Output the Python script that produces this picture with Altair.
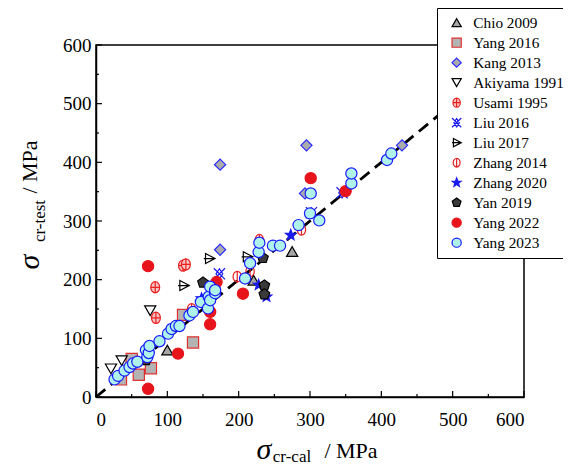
import math
import altair as alt
import pandas as pd

series_names = ["Chio 2009", "Yang 2016", "Kang 2013", "Akiyama 1991", "Usami 1995",
                "Liu 2016", "Liu 2017", "Zhang 2014", "Zhang 2020", "Yan 2019",
                "Yang 2022", "Yang 2023"]

chio_x = [100, 221, 275]
chio_y = [80, 199, 248]
yang16_x = [35, 50, 60, 77, 122, 136]
yang16_y = [30, 65, 38, 49, 140, 93]
kang_x = [174, 174, 295, 293, 429]
kang_y = [396, 251, 429, 347, 429]
akiyama_x = [21, 36, 76]
akiyama_y = [48, 62, 147]
usami_x = [83, 84, 122, 126]
usami_y = [187, 135, 224, 226]
liu16_x = [173, 302, 345]
liu16_y = [210, 314, 348]
liu17_x = [123, 159, 212]
liu17_y = [190, 236, 239]
zhang14_x = [134, 198, 216, 229, 288]
zhang14_y = [150, 205, 214, 268, 285]
zhang20_x = [148, 228, 239, 273]
zhang20_y = [168, 191, 171, 276]
yan_x = [70, 150, 234, 236, 236]
yan_y = [63, 195, 237, 190, 175]
yang22_x = [73, 73, 115, 160, 160, 169, 206, 301, 350]
yang22_y = [223, 14, 74, 145, 124, 196, 176, 373, 351]
yang23_x = [26, 31, 40, 47, 52, 58, 70, 72, 74, 75, 89, 101, 106, 112, 117, 131, 136,
            147, 157, 158, 160, 160, 167, 167, 209, 216, 228, 229, 248, 258, 284, 300,
            301, 313, 358, 358, 408, 414]
yang23_y = [30, 36, 45, 51, 57, 60, 80, 68, 75, 87, 95, 108, 116, 121, 121, 139, 145,
            162, 151, 171, 165, 188, 177, 182, 202, 228, 247, 263, 258, 258, 293, 313,
            347, 301, 364, 381, 404, 415]

xs = [chio_x, yang16_x, kang_x, akiyama_x, usami_x, liu16_x, liu17_x, zhang14_x,
      zhang20_x, yan_x, yang22_x, yang23_x]
ys = [chio_y, yang16_y, kang_y, akiyama_y, usami_y, liu16_y, liu17_y, zhang14_y,
      zhang20_y, yan_y, yang22_y, yang23_y]

rows = []
for name, xx, yy in zip(series_names, xs, ys):
    for a, b in zip(xx, yy):
        rows.append({"series": name, "cal": a, "test": b})
df = pd.DataFrame(rows)


def star_path(n=5, r_out=1.0, r_in=0.42):
    pts = []
    for i in range(2 * n):
        r = r_out if i % 2 == 0 else r_in
        ang = -math.pi / 2 + i * math.pi / n
        pts.append((r * math.cos(ang), r * math.sin(ang)))
    return "M" + "L".join(f"{px:.3f},{py:.3f}" for px, py in pts) + "Z"


def polygon_path(n=5, r=1.0):
    pts = []
    for i in range(n):
        ang = -math.pi / 2 + i * 2 * math.pi / n
        pts.append((r * math.cos(ang), r * math.sin(ang)))
    return "M" + "L".join(f"{px:.3f},{py:.3f}" for px, py in pts) + "Z"


shapes = [
    "triangle-up",
    "square",
    "diamond",
    "triangle-down",
    "M-0.8,0A0.8,1 0 1,1 0.8,0A0.8,1 0 1,1 -0.8,0Z M0,-1L0,1M-0.8,0L0.8,0",
    "M-1,-1L1,1M-1,1L1,-1M0,-0.9L0.6,0L0,0.9L-0.6,0Z",
    "M-0.7,-0.9L1,0L-0.7,0.9Z M-1,0L1,0",
    "M-0.75,0A0.75,0.95 0 1,1 0.75,0A0.75,0.95 0 1,1 -0.75,0Z M0,-1L0,1",
    star_path(),
    polygon_path(),
    "circle",
    "circle",
]
fills = ["#a6a6a6", "#b3b3b3", "#ababab", "#ffffff", "#f7c4c4", "transparent",
         "#ffffff", "transparent", "#1a1aee", "#3a3a3a", "#e8141c", "#aef2ea"]
strokes = ["#000000", "#e03030", "#2a2aff", "#000000", "#e82020", "#1a1aee",
           "#000000", "#e82020", "#1a1aee", "#000000", "#e8141c", "#1a1aff"]

FONT = "Liberation Serif"
W, H = 428, 352

xsc = alt.Scale(domain=[0, 600], nice=False)
ysc = alt.Scale(domain=[0, 600], nice=False)

diag = pd.DataFrame({"cal": [0, 600], "test": [0, 600]})
line = alt.Chart(diag).mark_line(color="black", strokeWidth=2.8, strokeDash=[12, 7]).encode(
    x=alt.X("cal:Q", scale=xsc,
            axis=alt.Axis(values=[0, 100, 200, 300, 400, 500, 600], title=None, ticks=False,
                          grid=False, labelFont=FONT, labelFontSize=19, labelColor="black",
                          labelPadding=13, domainColor="black", domainWidth=1.5)),
    y=alt.Y("test:Q", scale=ysc,
            axis=alt.Axis(values=[0, 100, 200, 300, 400, 500, 600], title=None, ticks=False,
                          grid=False, labelFont=FONT, labelFontSize=19, labelColor="black",
                          labelPadding=5, domainColor="black", domainWidth=1.5)),
)

legend = alt.Legend(title=None, orient="none", legendX=341, legendY=-37,
                    strokeColor="black", fillColor="white", padding=7,
                    labelFont=FONT, labelFontSize=15.3, labelColor="black",
                    symbolSize=85, rowPadding=4, labelOffset=9, symbolOffset=5,
                    symbolStrokeWidth=1.2)

pts = alt.Chart(df).mark_point(opacity=1, size=125, strokeWidth=1.2).encode(
    x=alt.X("cal:Q", scale=xsc),
    y=alt.Y("test:Q", scale=ysc),
    shape=alt.Shape("series:N", scale=alt.Scale(domain=series_names, range=shapes),
                    sort=series_names, legend=legend),
    fill=alt.Fill("series:N", scale=alt.Scale(domain=series_names, range=fills),
                  sort=series_names, legend=legend),
    stroke=alt.Stroke("series:N", scale=alt.Scale(domain=series_names, range=strokes),
                      sort=series_names, legend=legend),
)

tick_major = [0, 100, 200, 300, 400, 500, 600]
tick_minor = [50, 150, 250, 350, 450, 550]
tmaj = pd.DataFrame({"v": tick_major})
tmin = pd.DataFrame({"v": tick_minor})

xmaj = alt.Chart(tmaj).mark_rule(color="black", strokeWidth=1.2).encode(
    x=alt.X("v:Q", scale=xsc), y=alt.value(H), y2=alt.value(H - 6))
xmin = alt.Chart(tmin).mark_rule(color="black", strokeWidth=1.2).encode(
    x=alt.X("v:Q", scale=xsc), y=alt.value(H), y2=alt.value(H - 3))
ymaj = alt.Chart(tmaj).mark_rule(color="black", strokeWidth=1.2).encode(
    y=alt.Y("v:Q", scale=ysc), x=alt.value(0), x2=alt.value(6))
ymin = alt.Chart(tmin).mark_rule(color="black", strokeWidth=1.2).encode(
    y=alt.Y("v:Q", scale=ysc), x=alt.value(0), x2=alt.value(3))

OX, OY = 96, 45  # plot origin in page pixels


def label(text, px, py, size, italic=False, angle=0):
    d = pd.DataFrame({"t": [text]})
    return alt.Chart(d).mark_text(font=FONT, fontSize=size, color="black",
                                  fontStyle="italic" if italic else "normal",
                                  angle=angle, align="center", baseline="middle").encode(
        text="t:N", x=alt.value(px - OX), y=alt.value(py - OY))


titles = [
    label("σ", 264, 450, 30, italic=True),
    label("cr-cal", 292, 457, 17),
    label("/ MPa", 351, 451, 22),
    label("σ", 30, 262, 30, italic=True, angle=270),
    label("cr-test", 40, 221, 17, angle=270),
    label("/ MPa", 30, 167, 22, angle=270),
]

chart = alt.layer(line, xmaj, xmin, ymaj, ymin, pts, *titles).properties(
    width=W, height=H,
    autosize=alt.AutoSizeParams(type="none"),
    padding={"left": 88, "top": 37, "right": 39, "bottom": 68},
).configure(font=FONT).configure_view(stroke="black", strokeWidth=1.5)

chart.save("out.html", embed_options={"renderer": "svg", "actions": False})
